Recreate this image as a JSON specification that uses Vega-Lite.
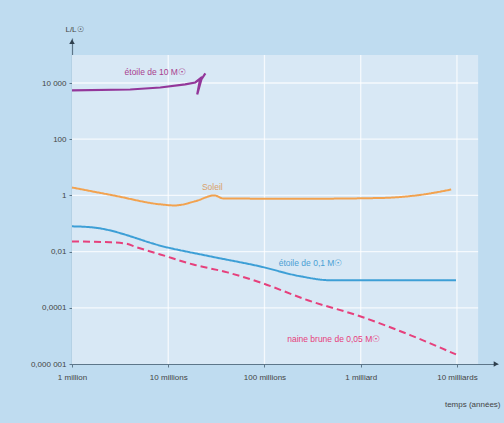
{
  "$schema": "https://vega.github.io/schema/vega-lite/v6.json",
  "width": 426,
  "height": 326,
  "autosize": {"type": "none"},
  "padding": {"left": 72, "top": 38, "right": 6, "bottom": 59},
  "background": "#bfdcf0",
  "config": {
    "view": {"stroke": null},
    "font": "Liberation Sans",
    "axis": {"labelFont": "Liberation Sans", "titleFont": "Liberation Sans"}
  },
  "resolve": {"scale": {"color": "independent"}},
  "datasets": {
    "curves": [
      {"s": "etoile10", "o": 1, "t": 1000000, "L": 5500},
      {"s": "etoile10", "o": 2, "t": 4020000, "L": 5890},
      {"s": "etoile10", "o": 3, "t": 8260000, "L": 6920},
      {"s": "etoile10", "o": 4, "t": 15000000, "L": 8910},
      {"s": "etoile10", "o": 5, "t": 19100000, "L": 10470},
      {"s": "etoile10", "o": 6, "t": 21500000, "L": 14450},
      {"s": "etoile10", "o": 7, "t": 20000000, "L": 3890},
      {"s": "etoile10", "o": 8, "t": 22100000, "L": 13490},
      {"s": "etoile10", "o": 9, "t": 24300000, "L": 21880},
      {"s": "soleil", "o": 1, "t": 1000000, "L": 1.91},
      {"s": "soleil", "o": 2, "t": 2690000, "L": 1.0},
      {"s": "soleil", "o": 3, "t": 8320000, "L": 0.48},
      {"s": "soleil", "o": 4, "t": 11700000, "L": 0.44},
      {"s": "soleil", "o": 5, "t": 19100000, "L": 0.62},
      {"s": "soleil", "o": 6, "t": 30200000, "L": 1.0},
      {"s": "soleil", "o": 7, "t": 37200000, "L": 0.78},
      {"s": "soleil", "o": 8, "t": 237000000, "L": 0.76},
      {"s": "soleil", "o": 9, "t": 1620000000, "L": 0.81},
      {"s": "soleil", "o": 10, "t": 4220000000, "L": 1.05},
      {"s": "soleil", "o": 11, "t": 8710000000, "L": 1.62},
      {"s": "etoile01", "o": 1, "t": 1000000, "L": 0.0794},
      {"s": "etoile01", "o": 2, "t": 1660000, "L": 0.0724},
      {"s": "etoile01", "o": 3, "t": 9770000, "L": 0.0141},
      {"s": "etoile01", "o": 4, "t": 27400000, "L": 0.00676},
      {"s": "etoile01", "o": 5, "t": 90800000, "L": 0.00295},
      {"s": "etoile01", "o": 6, "t": 237000000, "L": 0.00132},
      {"s": "etoile01", "o": 7, "t": 487000000, "L": 0.000955},
      {"s": "etoile01", "o": 8, "t": 2610000000, "L": 0.000955},
      {"s": "etoile01", "o": 9, "t": 9770000000, "L": 0.000955},
      {"s": "naine", "o": 1, "t": 1000000, "L": 0.0229},
      {"s": "naine", "o": 2, "t": 2490000, "L": 0.0214},
      {"s": "naine", "o": 3, "t": 3560000, "L": 0.0195},
      {"s": "naine", "o": 4, "t": 4750000, "L": 0.0141},
      {"s": "naine", "o": 5, "t": 8260000, "L": 0.00794},
      {"s": "naine", "o": 6, "t": 18200000, "L": 0.00347},
      {"s": "naine", "o": 7, "t": 41200000, "L": 0.00182},
      {"s": "naine", "o": 8, "t": 90800000, "L": 0.000794},
      {"s": "naine", "o": 9, "t": 287000000, "L": 0.000182},
      {"s": "naine", "o": 10, "t": 1000000000, "L": 0.000049},
      {"s": "naine", "o": 11, "t": 3310000000, "L": 0.0000105},
      {"s": "naine", "o": 12, "t": 9770000000, "L": 0.00000219}
    ],
    "labels": [
      {"s": "etoile10", "text": "étoile de 10 M☉", "t": 7330000, "L": 24000},
      {"s": "soleil", "text": "Soleil", "t": 28700000, "L": 1.93},
      {"s": "etoile01", "text": "étoile de 0,1 M☉", "t": 301000000, "L": 0.0038},
      {"s": "naine", "text": "naine brune de 0,05 M☉", "t": 524000000, "L": 0.0000075}
    ],
    "grid": [
      {"x": 10000000, "x2": 10000000, "y": 0.000001, "y2": 100000},
      {"x": 100000000, "x2": 100000000, "y": 0.000001, "y2": 100000},
      {"x": 1000000000, "x2": 1000000000, "y": 0.000001, "y2": 100000},
      {"x": 10000000000, "x2": 10000000000, "y": 0.000001, "y2": 100000},
      {"x": 1000000, "x2": 16600000000, "y": 10000, "y2": 10000},
      {"x": 1000000, "x2": 16600000000, "y": 100, "y2": 100},
      {"x": 1000000, "x2": 16600000000, "y": 1, "y2": 1},
      {"x": 1000000, "x2": 16600000000, "y": 0.01, "y2": 0.01},
      {"x": 1000000, "x2": 16600000000, "y": 0.0001, "y2": 0.0001}
    ]
  },
  "layer": [
    {
      "data": {"values": [{"x": 1000000, "x2": 16600000000, "y": 0.000001, "y2": 100000}]},
      "mark": {"type": "rect", "color": "#d8e8f5"},
      "encoding": {
        "x": {
          "field": "x", "type": "quantitative",
          "scale": {"type": "log", "domain": [1000000, 26700000000], "nice": false},
          "axis": {
            "values": [1000000, 10000000, 100000000, 1000000000, 10000000000],
            "labelExpr": "datum.value < 5e6 ? '1 million' : datum.value < 5e7 ? '10 millions' : datum.value < 5e8 ? '100 millions' : datum.value < 5e9 ? '1 milliard' : '10 milliards'",
            "grid": false,
            "domainColor": "#5d7689",
            "domainWidth": 1.2,
            "tickColor": "#5d7689",
            "tickSize": 3,
            "labelFontSize": 8,
            "labelColor": "#444444",
            "labelPadding": 6,
            "labelFlush": false,
            "labelOverlap": false,
            "title": "temps (années)",
            "titleFontSize": 8,
            "titleFontWeight": "normal",
            "titleColor": "#444444",
            "titleX": 428,
            "titleY": 40,
            "titleAlign": "right",
            "titleBaseline": "middle"
          }
        },
        "x2": {"field": "x2"},
        "y": {
          "field": "y", "type": "quantitative",
          "scale": {"type": "log", "domain": [0.000001, 400000], "nice": false},
          "axis": {
            "values": [0.000001, 0.0001, 0.01, 1, 100, 10000],
            "labelExpr": "datum.value < 1e-5 ? '0,000 001' : datum.value < 1e-3 ? '0,0001' : datum.value < 0.1 ? '0,01' : datum.value < 10 ? '1' : datum.value < 1000 ? '100' : '10 000'",
            "grid": false,
            "domainColor": "#5d7689",
            "domainWidth": 1.2,
            "tickColor": "#5d7689",
            "tickSize": 3,
            "labelFontSize": 8,
            "labelColor": "#444444",
            "labelPadding": 3,
            "labelOverlap": false,
            "labelFlush": false,
            "title": "L/L☉",
            "titleAngle": 0,
            "titleFontSize": 8,
            "titleFontWeight": "normal",
            "titleColor": "#444444",
            "titleX": 2,
            "titleY": -9,
            "titleAlign": "center",
            "titleBaseline": "middle"
          }
        },
        "y2": {"field": "y2"}
      }
    },
    {
      "data": {"name": "grid"},
      "mark": {"type": "rule", "color": "#ffffff", "strokeWidth": 1.3, "opacity": 0.75},
      "encoding": {
        "x": {"field": "x", "type": "quantitative"},
        "x2": {"field": "x2"},
        "y": {"field": "y", "type": "quantitative"},
        "y2": {"field": "y2"}
      }
    },
    {
      "data": {"name": "curves"},
      "transform": [{"filter": "datum.s === 'etoile10'"}],
      "mark": {"type": "line", "strokeWidth": 2.2, "interpolate": "linear", "color": "#93379a"},
      "encoding": {
        "x": {"field": "t", "type": "quantitative"},
        "y": {"field": "L", "type": "quantitative"},
        "order": {"field": "o", "type": "quantitative"}
      }
    },
    {
      "data": {"name": "curves"},
      "transform": [{"filter": "datum.s !== 'etoile10'"}],
      "mark": {"type": "line", "strokeWidth": 2, "interpolate": "monotone"},
      "encoding": {
        "x": {"field": "t", "type": "quantitative"},
        "y": {"field": "L", "type": "quantitative"},
        "order": {"field": "o", "type": "quantitative"},
        "color": {
          "field": "s", "type": "nominal", "legend": null,
          "scale": {"domain": ["soleil", "etoile01", "naine"], "range": ["#f2a24f", "#3d9fd6", "#e6407c"]}
        },
        "strokeDash": {
          "field": "s", "type": "nominal", "legend": null,
          "scale": {"domain": ["soleil", "etoile01", "naine"], "range": [[1, 0], [1, 0], [7, 4]]}
        }
      }
    },
    {
      "data": {"name": "labels"},
      "mark": {"type": "text", "fontSize": 8.5, "align": "center", "baseline": "middle"},
      "encoding": {
        "x": {"field": "t", "type": "quantitative"},
        "y": {"field": "L", "type": "quantitative"},
        "text": {"field": "text"},
        "color": {
          "field": "s", "type": "nominal", "legend": null,
          "scale": {"domain": ["etoile10", "soleil", "etoile01", "naine"], "range": ["#a8408e", "#d9a06a", "#4aa0d4", "#e6407c"]}
        }
      }
    },
    {
      "data": {"values": [
        {"x": 25500000000, "y": 0.000001, "shape": "triangle-right"},
        {"x": 1000000, "y": 300000, "shape": "triangle-up"}
      ]},
      "mark": {"type": "point", "filled": true, "size": 30, "color": "#2e3f4d", "opacity": 1},
      "encoding": {
        "x": {"field": "x", "type": "quantitative"},
        "y": {"field": "y", "type": "quantitative"},
        "shape": {"field": "shape", "type": "nominal", "scale": null, "legend": null}
      }
    }
  ]
}
